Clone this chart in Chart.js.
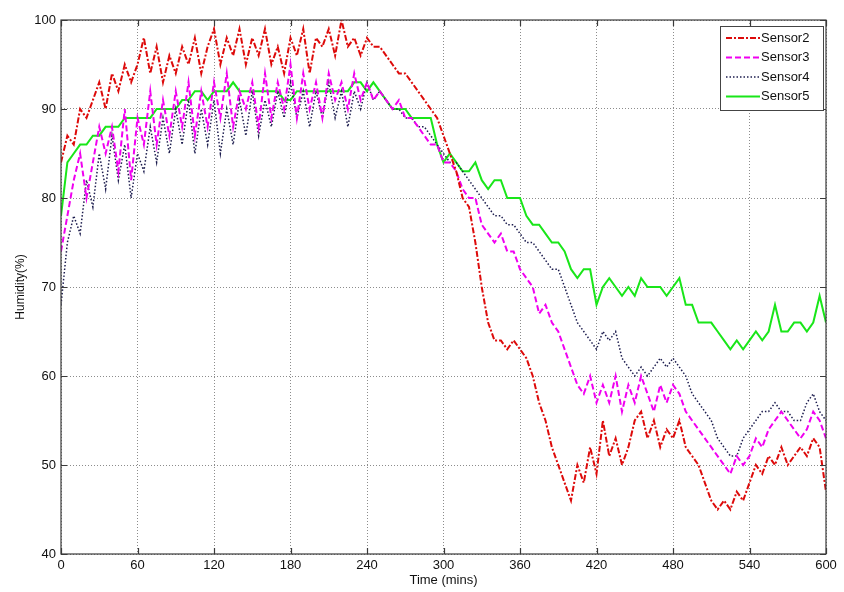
<!DOCTYPE html>
<html>
<head>
<meta charset="utf-8" />
<title>Humidity vs Time</title>
<script src="https://cdn.jsdelivr.net/npm/chart.js@4.4.0/dist/chart.umd.min.js"></script>
<style>
  html, body { margin: 0; padding: 0; background: #fff; }
  #wrap { width: 844px; height: 592px; }
</style>
</head>
<body>
<div id="wrap"><canvas id="humidityChart" width="844" height="592"></canvas></div>
<script>
// time axis (mins), one reading every 5 minutes
const minutes = [
  0, 5, 10, 15, 20, 25, 30, 35, 40, 45, 50, 55, 60, 65, 70, 75, 80, 85, 90, 95,
  100, 105, 110, 115, 120, 125, 130, 135, 140, 145, 150, 155, 160, 165, 170, 175, 180, 185, 190, 195,
  200, 205, 210, 215, 220, 225, 230, 235, 240, 245, 250, 255, 260, 265, 270, 275, 280, 285, 290, 295,
  300, 305, 310, 315, 320, 325, 330, 335, 340, 345, 350, 355, 360, 365, 370, 375, 380, 385, 390, 395,
  400, 405, 410, 415, 420, 425, 430, 435, 440, 445, 450, 455, 460, 465, 470, 475, 480, 485, 490, 495,
  500, 505, 510, 515, 520, 525, 530, 535, 540, 545, 550, 555, 560, 565, 570, 575, 580, 585, 590, 595,
  600
];

const sensor2 = [
  84, 87, 86, 90, 89, 91, 93, 90, 94, 92, 95, 93, 95, 98, 94, 97, 93, 96, 94, 97,
  95, 98, 94, 97, 99, 95, 98, 96, 99, 95, 98, 96, 99, 95, 97, 94, 98, 96, 99, 94,
  98, 97, 99, 96, 100, 97, 98, 96, 98, 97, 97, 96, 95, 94, 94, 93, 92, 91, 90, 89,
  87, 85, 83, 80, 79, 75, 70, 66, 64, 64, 63, 64, 63, 62, 60, 57, 55, 52, 50, 48,
  46, 50, 48, 52, 49, 55, 51, 53, 50, 52, 55, 56, 53, 55, 52, 54, 53, 55, 52, 51,
  50, 48, 46, 45, 46, 45, 47, 46, 48, 50, 49, 51, 50, 52, 50, 51, 52, 51, 53, 52,
  47
];

const sensor3 = [
  74, 78, 82, 85, 80, 84, 88, 85, 88, 83, 90, 82, 89, 86, 92, 86, 91, 87, 92, 88,
  93, 87, 92, 88, 93, 89, 94, 88, 92, 90, 93, 88, 94, 89, 93, 90, 95, 89, 94, 90,
  93, 89, 94, 91, 93, 90, 94, 91, 93, 91, 92, 91, 90, 91, 89, 89, 88, 87, 86, 86,
  84, 84, 83, 81, 80, 80, 77, 76, 75, 76, 74, 74, 72, 71, 70, 67, 68, 66, 65, 63,
  61, 59, 58, 60, 57, 59, 57, 60, 56, 59, 57, 60, 58, 56, 59, 57, 59, 58, 56, 55,
  54, 53, 52, 51, 50, 49, 51, 50, 51, 53, 52, 54, 55, 56, 55, 54, 53, 54, 56, 55,
  53
];

const sensor4 = [
  68, 75, 78, 76, 82, 79, 85, 81, 87, 82, 86, 80, 85, 83, 88, 84, 89, 85, 90, 86,
  91, 85, 90, 86, 91, 85, 90, 86, 91, 87, 92, 87, 91, 88, 92, 89, 93, 89, 92, 88,
  92, 89, 93, 89, 92, 88, 92, 90, 93, 91, 92, 91, 90, 90, 89, 89, 88, 88, 87, 86,
  85, 84, 84, 83, 82, 81, 80, 79, 78, 78, 77, 77, 76, 75, 75, 74, 73, 72, 72, 70,
  68, 66, 65, 64, 63, 65, 64, 65, 62, 61, 60, 61, 60, 61, 62, 61, 62, 61, 60, 58,
  57, 56, 55, 53, 52, 51, 51, 53, 54, 55, 56, 56, 57, 56, 56, 55, 55, 57, 58, 56,
  55
];

const sensor5 = [
  78, 84, 85, 86, 86, 87, 87, 88, 88, 88, 89, 89, 89, 89, 89, 90, 90, 90, 90, 91,
  91, 92, 92, 91, 92, 92, 92, 93, 92, 92, 92, 92, 92, 92, 92, 91, 91, 92, 92, 92,
  92, 92, 92, 92, 92, 92, 93, 93, 92, 93, 92, 91, 90, 90, 90, 89, 89, 89, 89, 86,
  84, 85, 84, 83, 83, 84, 82, 81, 82, 82, 80, 80, 80, 78, 77, 77, 76, 75, 75, 74,
  72, 71, 72, 72, 68, 70, 71, 70, 69, 70, 69, 71, 70, 70, 70, 69, 70, 71, 68, 68,
  66, 66, 66, 65, 64, 63, 64, 63, 64, 65, 64, 65, 68, 65, 65, 66, 66, 65, 66, 69,
  66
];

const seriesNames = ["Sensor2", "Sensor3", "Sensor4", "Sensor5"];
const xTicks = [0, 60, 120, 180, 240, 300, 360, 420, 480, 540, 600];
const yTicks = [40, 50, 60, 70, 80, 90, 100];

const toPoints = (values) => minutes.map((t, i) => ({ x: t, y: values[i] }));

const FONT = "'Liberation Sans', Arial, sans-serif";

// matlab style frame with inward tick marks
const frameTicks = {
  id: "frameTicks",
  afterDatasetsDraw(chart) {
    const { ctx, chartArea, scales } = chart;
    const { left, right, top, bottom } = chartArea;
    ctx.save();
    ctx.strokeStyle = "#3a3a3a";
    ctx.lineWidth = 1.2;
    ctx.setLineDash([]);
    ctx.strokeRect(left, top, right - left, bottom - top);
    ctx.beginPath();
    xTicks.forEach((t) => {
      const px = Math.round(scales.x.getPixelForValue(t)) + 0.5;
      ctx.moveTo(px, bottom);
      ctx.lineTo(px, bottom - 6);
      ctx.moveTo(px, top);
      ctx.lineTo(px, top + 6);
    });
    yTicks.forEach((v) => {
      const py = Math.round(scales.y.getPixelForValue(v)) + 0.5;
      ctx.moveTo(left, py);
      ctx.lineTo(left + 6, py);
      ctx.moveTo(right, py);
      ctx.lineTo(right - 6, py);
    });
    ctx.stroke();
    ctx.restore();
  },
};

// legend box inside the plot, top right
const insideLegend = {
  id: "insideLegend",
  afterDraw(chart) {
    const { ctx, chartArea } = chart;
    const boxW = 103;
    const rowH = 19.5;
    const sets = chart.data.datasets;
    const boxH = rowH * sets.length + 6;
    const x0 = chartArea.right - boxW - 3;
    const y0 = chartArea.top + 6;
    ctx.save();
    ctx.fillStyle = "#ffffff";
    ctx.fillRect(x0, y0, boxW, boxH);
    ctx.strokeStyle = "#444";
    ctx.lineWidth = 1;
    ctx.setLineDash([]);
    ctx.strokeRect(x0 + 0.5, y0 + 0.5, boxW, boxH);
    ctx.font = "13px " + FONT;
    ctx.textBaseline = "middle";
    sets.forEach((ds, i) => {
      const cy = y0 + 12 + i * rowH;
      ctx.beginPath();
      ctx.strokeStyle = ds.borderColor;
      ctx.lineWidth = ds.borderWidth;
      ctx.setLineDash(ds.borderDash || []);
      ctx.moveTo(x0 + 6, cy);
      ctx.lineTo(x0 + 40, cy);
      ctx.stroke();
      ctx.setLineDash([]);
      ctx.fillStyle = "#111";
      ctx.fillText(ds.label, x0 + 41, cy);
    });
    ctx.restore();
  },
};

const ctx = document.getElementById("humidityChart");

new Chart(ctx, {
  type: "line",
  data: {
    datasets: [
      {
        label: seriesNames[0],
        data: toPoints(sensor2),
        borderColor: "#dd0a0a",
        borderWidth: 2,
        borderDash: [6, 2, 2, 2],
      },
      {
        label: seriesNames[1],
        data: toPoints(sensor3),
        borderColor: "#f000f0",
        borderWidth: 2,
        borderDash: [6, 3],
      },
      {
        label: seriesNames[2],
        data: toPoints(sensor4),
        borderColor: "#1c1c4e",
        borderWidth: 1.5,
        borderDash: [1.5, 2],
      },
      {
        label: seriesNames[3],
        data: toPoints(sensor5),
        borderColor: "#19e619",
        borderWidth: 2,
        borderDash: [],
      },
    ],
  },
  options: {
    responsive: false,
    animation: false,
    devicePixelRatio: 1,
    layout: {
      padding: { left: 0, right: 18, top: 20, bottom: 0 },
    },
    elements: {
      point: { radius: 0 },
      line: { tension: 0, fill: false },
    },
    scales: {
      x: {
        type: "linear",
        min: 0,
        max: 600,
        afterFit: (scale) => {
          scale.height = 38;
        },
        afterBuildTicks: (scale) => {
          scale.ticks = xTicks.map((v) => ({ value: v }));
        },
        ticks: {
          padding: 4,
          maxRotation: 0,
          color: "#111",
          font: { family: FONT, size: 13 },
        },
        grid: {
          color: "#8c8c8c",
          lineWidth: 1,
          drawTicks: false,
        },
        border: { display: false, dash: [1, 2] },
        title: {
          display: true,
          text: "Time (mins)",
          color: "#111",
          font: { family: FONT, size: 13 },
          padding: { top: 0, bottom: 4 },
        },
      },
      y: {
        type: "linear",
        min: 40,
        max: 100,
        afterFit: (scale) => {
          scale.width = 61;
        },
        afterBuildTicks: (scale) => {
          scale.ticks = yTicks.map((v) => ({ value: v }));
        },
        ticks: {
          padding: 5,
          color: "#111",
          font: { family: FONT, size: 13 },
        },
        grid: {
          color: "#8c8c8c",
          lineWidth: 1,
          drawTicks: false,
        },
        border: { display: false, dash: [1, 2] },
        title: {
          display: true,
          text: "Humidity(%)",
          color: "#111",
          font: { family: FONT, size: 12 },
          padding: { top: 13, bottom: 0 },
        },
      },
    },
    plugins: {
      legend: { display: false },
      tooltip: { enabled: false },
    },
  },
  plugins: [frameTicks, insideLegend],
});
</script>
</body>
</html>
